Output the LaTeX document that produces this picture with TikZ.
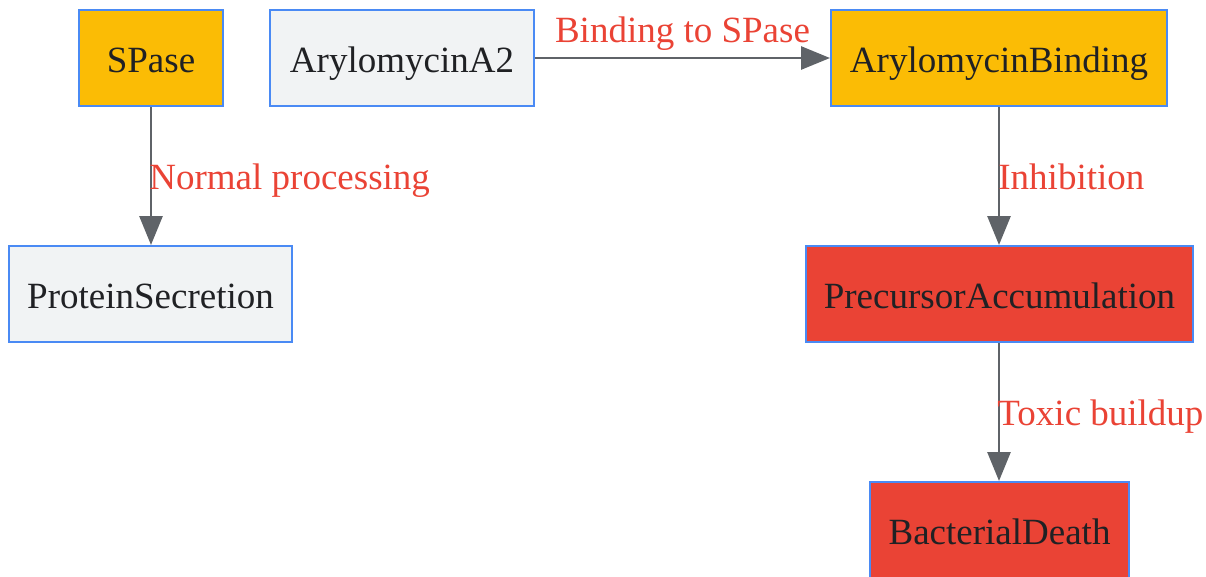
\documentclass[tikz,border=0pt]{standalone}
\usepackage{fontspec}
\setmainfont{Liberation Serif}
\usetikzlibrary{arrows.meta}
\definecolor{boxyellow}{HTML}{FBBC05}
\definecolor{boxgrey}{HTML}{F1F3F4}
\definecolor{boxred}{HTML}{EA4335}
\definecolor{boxborder}{HTML}{4A8AF4}
\definecolor{linkgrey}{HTML}{5F6368}
\definecolor{labelred}{HTML}{EA4335}
\definecolor{txt}{HTML}{202124}
\tikzset{
  box/.style={draw=boxborder, line width=2pt, inner sep=0pt, text=txt,
    font=\fontsize{37}{44}\selectfont, minimum height=96pt,
    text height=28.6pt, text depth=0pt},
  yellowbox/.style={box, fill=boxyellow},
  greybox/.style={box, fill=boxgrey},
  redbox/.style={box, fill=boxred},
  link/.style={draw=linkgrey, line width=2.8pt, -{Triangle[length=29pt,width=23pt]}},
  lbl/.style={text=labelred, font=\fontsize{37}{44}\selectfont, inner sep=0pt}
}
\begin{document}
\begin{tikzpicture}[x=1pt,y=-1pt]
\useasboundingbox (0,0) rectangle (1206,576);
\node[yellowbox, minimum width=144pt] (spase) at (151,58) {SPase};
\node[greybox, minimum width=264pt] (a2) at (402,58) {ArylomycinA2};
\node[yellowbox, minimum width=336pt] (bind) at (999,58) {ArylomycinBinding};
\node[greybox, minimum width=283pt] (secr) at (150.5,294) {ProteinSecretion};
\node[redbox, minimum width=387pt] (accum) at (999.5,294) {PrecursorAccumulation};
\node[redbox, minimum width=259pt] (death) at (999.5,530) {BacterialDeath};
\draw[link] (a2) -- (bind) node[lbl, pos=0.5, anchor=base, yshift=16pt] (l1) {Binding to SPase};
\draw[link] (spase.south) -- (spase.south |- secr.north) node[lbl, pos=0.5, anchor=base west, xshift=-3pt, yshift=-13pt] (l2) {Normal processing};
\draw[link] (bind.south) -- (bind.south |- accum.north) node[lbl, pos=0.5, anchor=base west, xshift=-2pt, yshift=-13pt] (l3) {Inhibition};
\draw[link] (bind.south |- accum.south) -- (bind.south |- death.north) node[lbl, pos=0.5, anchor=base west, xshift=-3pt, yshift=-13pt] (l4) {Toxic buildup};
\end{tikzpicture}
\end{document}
